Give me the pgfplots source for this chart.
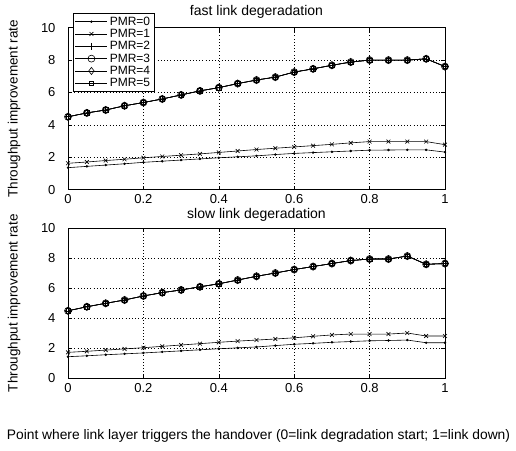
\documentclass[border=0pt]{standalone}
\usepackage{fontspec}
\setmainfont{Liberation Sans}
\usepackage{pgfplots}
\pgfplotsset{compat=1.18}
\usepackage{pgfplotstable}

\pgfplotstableread{
x     p0    p1    p2
0     1.36  1.63  4.50
0.05  1.44  1.71  4.74
0.10  1.52  1.80  4.92
0.15  1.60  1.88  5.18
0.20  1.69  1.97  5.38
0.25  1.76  2.05  5.60
0.30  1.83  2.13  5.85
0.35  1.90  2.21  6.10
0.40  1.97  2.30  6.30
0.45  2.03  2.39  6.55
0.50  2.09  2.48  6.77
0.55  2.17  2.56  6.95
0.60  2.24  2.64  7.26
0.65  2.29  2.72  7.46
0.70  2.34  2.80  7.68
0.75  2.39  2.89  7.88
0.80  2.44  2.97  8.00
0.85  2.45  2.97  8.00
0.90  2.46  2.97  8.00
0.95  2.46  2.97  8.08
1.00  2.32  2.78  7.60
}\fasttable

\pgfplotstableread{
x     p0    p1    p2
0     1.44  1.73  4.50
0.05  1.50  1.80  4.77
0.10  1.57  1.88  5.00
0.15  1.63  1.96  5.22
0.20  1.69  2.04  5.49
0.25  1.76  2.13  5.71
0.30  1.83  2.22  5.89
0.35  1.90  2.31  6.10
0.40  1.97  2.40  6.30
0.45  2.03  2.48  6.55
0.50  2.09  2.55  6.80
0.55  2.18  2.62  7.02
0.60  2.27  2.70  7.25
0.65  2.33  2.80  7.45
0.70  2.40  2.89  7.65
0.75  2.45  2.95  7.85
0.80  2.50  2.95  7.95
0.85  2.52  2.95  7.95
0.90  2.55  3.02  8.15
0.95  2.37  2.82  7.60
1.00  2.37  2.82  7.65
}\slowtable

\pgfplotsset{
  myaxis/.style={
    scale only axis,
    width=377pt,
    xmin=0, xmax=1, ymin=0, ymax=10,
    xtick={0,0.2,0.4,0.6,0.8,1},
    ytick={0,2,4,6,8,10},
    xticklabels={0,0.2,0.4,0.6,0.8,1},
    tick align=inside,
    major tick length=4pt,
    grid=major,
    major grid style={black, line width=0.4pt, dash pattern=on 0.6pt off 2.6pt},
    axis line style={line width=0.9pt},
    tick style={line width=0.5pt, black},
    /pgf/number format/assume math mode=true,
    ticklabel style={font=\fontsize{13}{14}\selectfont},
    yticklabel style={xshift=-9pt},
    xticklabel style={inner sep=1pt, yshift=-4pt},
    ylabel style={at={(axis description cs:-0.1432,0.5)}, anchor=center, font=\fontsize{13.5}{14}\selectfont},
    every axis title shift=0pt,
    title style={at={(axis description cs:0.5,1)}, anchor=base, inner sep=0pt, font=\fontsize{14}{15}\selectfont},
    every axis plot/.append style={black, line width=0.6pt},
  },
  s0/.style={mark=*, mark size=0.9pt},
  s1/.style={mark=x, mark size=2.7pt},
  s2/.style={mark=+, mark size=3.5pt},
  s3/.style={mark=o, mark size=3.5pt},
  s4/.style={mark=diamond, mark size=3.6pt},
  s5/.style={mark=square, mark size=2.2pt},
}

\begin{document}
\begin{tikzpicture}
\useasboundingbox (0,0) rectangle (516pt,450pt);

\begin{axis}[myaxis,
  height=162pt,
  at={(68pt,260.3pt)}, anchor=south west,
  title={fast link degeradation},
  title style={yshift=12.5pt},
  ylabel={Throughput improvement rate},
  legend style={at={(axis description cs:0.013,1.088)}, anchor=north west,
    font=\fontsize{12}{13}\selectfont, draw=black, line width=0.5pt,
    fill=white, inner xsep=2pt, inner ysep=1pt, row sep=-1.5pt},
  legend cell align=left,
  legend image code/.code={\draw[#1] (0pt,0pt) -- (32pt,0pt); \draw[#1, mark repeat=2, mark phase=2] plot coordinates {(0pt,0pt) (16pt,0pt) (32pt,0pt)};},
]
\addplot[s0] table[x=x,y=p0] {\fasttable};
\addlegendentry{PMR=0}
\addplot[s1] table[x=x,y=p1] {\fasttable};
\addlegendentry{PMR=1}
\addplot[s2] table[x=x,y=p2] {\fasttable};
\addlegendentry{PMR=2}
\addplot[s3] table[x=x,y=p2] {\fasttable};
\addlegendentry{PMR=3}
\addplot[s4] table[x=x,y=p2] {\fasttable};
\addlegendentry{PMR=4}
\addplot[s5] table[x=x,y=p2] {\fasttable};
\addlegendentry{PMR=5}
\end{axis}

\begin{axis}[myaxis,
  height=150pt,
  at={(68pt,71.7pt)}, anchor=south west,
  title={slow link degeradation},
  title style={yshift=9.5pt},
  ylabel={Throughput improvement rate},
]
\addplot[s0] table[x=x,y=p0] {\slowtable};
\addplot[s1] table[x=x,y=p1] {\slowtable};
\addplot[s2] table[x=x,y=p2] {\slowtable};
\addplot[s3] table[x=x,y=p2] {\slowtable};
\addplot[s4] table[x=x,y=p2] {\slowtable};
\addplot[s5] table[x=x,y=p2] {\slowtable};
\end{axis}

\node[font=\fontsize{13.8}{15}\selectfont, anchor=center] at (258.5pt,14pt)
  {Point where link layer triggers the handover (0=link degradation start; 1=link down)};
\end{tikzpicture}
\end{document}
